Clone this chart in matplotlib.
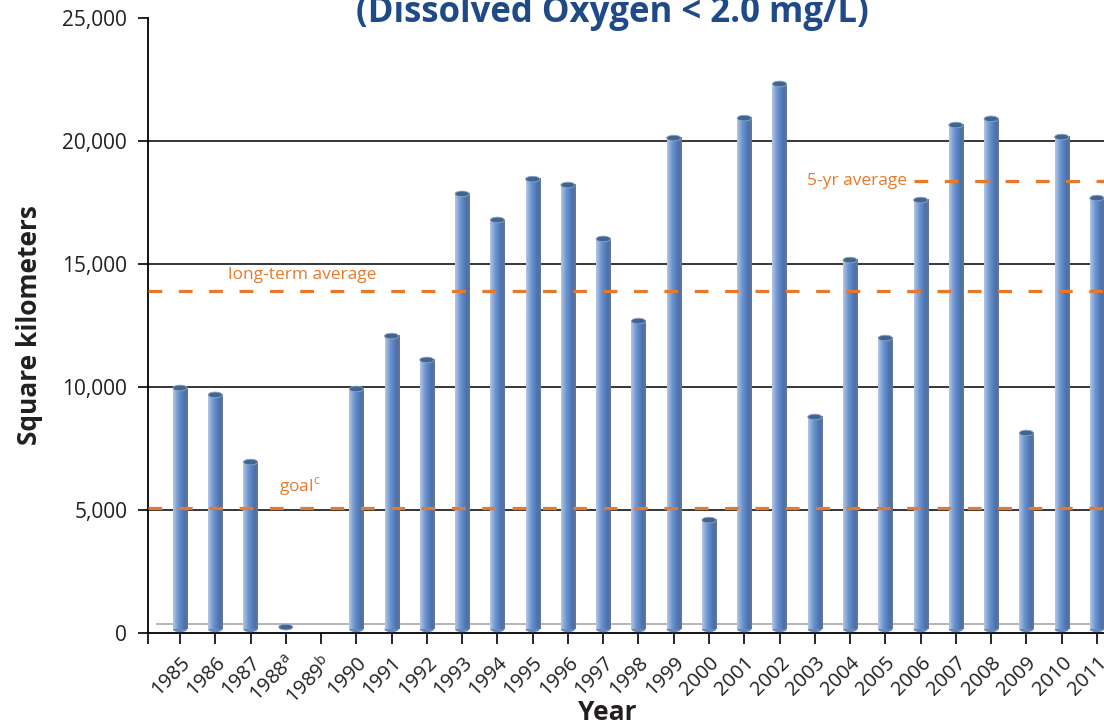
"""Gulf hypoxic zone area by year, cylinder-style bars with reference lines."""

import matplotlib

matplotlib.use("Agg")
import matplotlib.pyplot as plt
import numpy as np
from matplotlib import font_manager
from matplotlib.colors import LinearSegmentedColormap
from matplotlib.patches import Ellipse

# data
years = ["1985", "1986", "1987", r"1988$^{\mathrm{a}}$", r"1989$^{\mathrm{b}}$",
         "1990", "1991", "1992", "1993", "1994", "1995", "1996", "1997",
         "1998", "1999", "2000", "2001", "2002", "2003", "2004", "2005",
         "2006", "2007", "2008", "2009", "2010", "2011"]
area_km2 = [9960, 9680, 6950, 240, None, 9920, 12070, 11100, 17850, 16790,
            18450, 18210, 16020, 12680, 20120, 4590, 20930, 22320, 8780,
            15160, 11990, 17600, 20650, 20900, 8130, 20160, 17680]
long_term_avg = 13900
goal = 5080
five_yr_avg = 18380
y_ticks = [0, 5000, 10000, 15000, 20000, 25000]

installed = {f.name for f in font_manager.fontManager.ttflist}
narrow = "Liberation Sans Narrow" if "Liberation Sans Narrow" in installed else "Open Sans"
plt.rcParams["font.family"] = [narrow, "DejaVu Sans"]
plt.rcParams["mathtext.fontset"] = "custom"
plt.rcParams["mathtext.rm"] = narrow

ORANGE = "#e8792b"
TEXT = "#231f20"

fig = plt.figure(figsize=(11.04, 7.28), dpi=100)
ax = fig.add_axes([148 / 1104, 1 - 633 / 728, 1 - 148 / 1104, 615 / 728])

x = np.arange(len(years))
width = 0.4
base = 150
cyl = LinearSegmentedColormap.from_list(
    "cyl", ["#b3c7e6", "#8aaad9", "#6890cc", "#5680c0", "#4d6fa3", "#66779a"])
grad = np.linspace(0, 1, 64).reshape(1, -1)
cap_h = 230

for xi, v in zip(x, area_km2):
    if v is None:
        continue
    if v - base > cap_h:
        ax.imshow(grad, cmap=cyl, aspect="auto", interpolation="bilinear",
                  extent=[xi - width / 2, xi + width / 2, base, v], zorder=3)
        ax.add_patch(Ellipse((xi, base), width, cap_h, facecolor="#6688bb",
                             edgecolor="none", zorder=2.9))
    ax.add_patch(Ellipse((xi, v), width, cap_h, facecolor="#3f6590",
                         edgecolor="#8fa6c6", linewidth=0.6, zorder=4))

# gridlines and 3D floor edge
for t in y_ticks[1:-1]:
    ax.axhline(t, color="black", linewidth=1.1, zorder=1)
ax.plot([-0.65, 26.3], [370, 370], color="#b0b0b0", linewidth=1.3, zorder=1.5,
        clip_on=False)

# reference lines
dash = dict(color=ORANGE, linewidth=2.3, dashes=(4.3, 5.2), zorder=5)
ax.plot([-0.9, 26.3], [long_term_avg, long_term_avg], **dash)
ax.plot([-0.9, 26.3], [goal, goal], **dash)
ax.plot([20.8, 26.3], [five_yr_avg, five_yr_avg], **dash)
ax.text(1.35, 14550, "long-term average", color=ORANGE,
        fontsize=12.5, ha="left", va="center")
ax.text(2.8, 5950, "goal$^{\\mathrm{c}}$", color=ORANGE, fontsize=12.5,
        ha="left", va="center")
ax.text(20.6, five_yr_avg, "5-yr average", color=ORANGE, fontsize=12.5,
        ha="right", va="center")

ax.set_xlim(-0.907, 26.2)
ax.set_ylim(0, 25000)
ax.set_yticks(y_ticks)
ax.set_yticklabels([f"{t:,}" for t in y_ticks], fontsize=15, color=TEXT)
ax.set_xticks(x)
ax.set_xticklabels(years, rotation=45, ha="right", va="top",
                   rotation_mode="anchor", fontsize=14.5, color=TEXT)
ax.set_xticks([-0.907], minor=True)
ax.tick_params(axis="x", which="both", length=8, width=1.2, direction="out",
               pad=6)
ax.tick_params(axis="y", length=7, width=1.2, direction="out", pad=8)
for side in ("top", "right"):
    ax.spines[side].set_visible(False)
for side in ("left", "bottom"):
    ax.spines[side].set_linewidth(1.3)

ax.set_ylabel("Square kilometers", fontsize=19, fontweight="bold",
              color=TEXT, labelpad=14)
fig.text(607 / 1104, 1 - 712 / 728, "Year", ha="center", va="center",
         fontsize=19, fontweight="bold", color=TEXT)

fig.text(0.555, 1 - 22 / 728, "(Dissolved Oxygen < 2.0 mg/L)", ha="center",
         va="baseline", fontsize=25, fontweight="bold", color="#1e4a87")

fig.savefig("out.png", dpi=100)
